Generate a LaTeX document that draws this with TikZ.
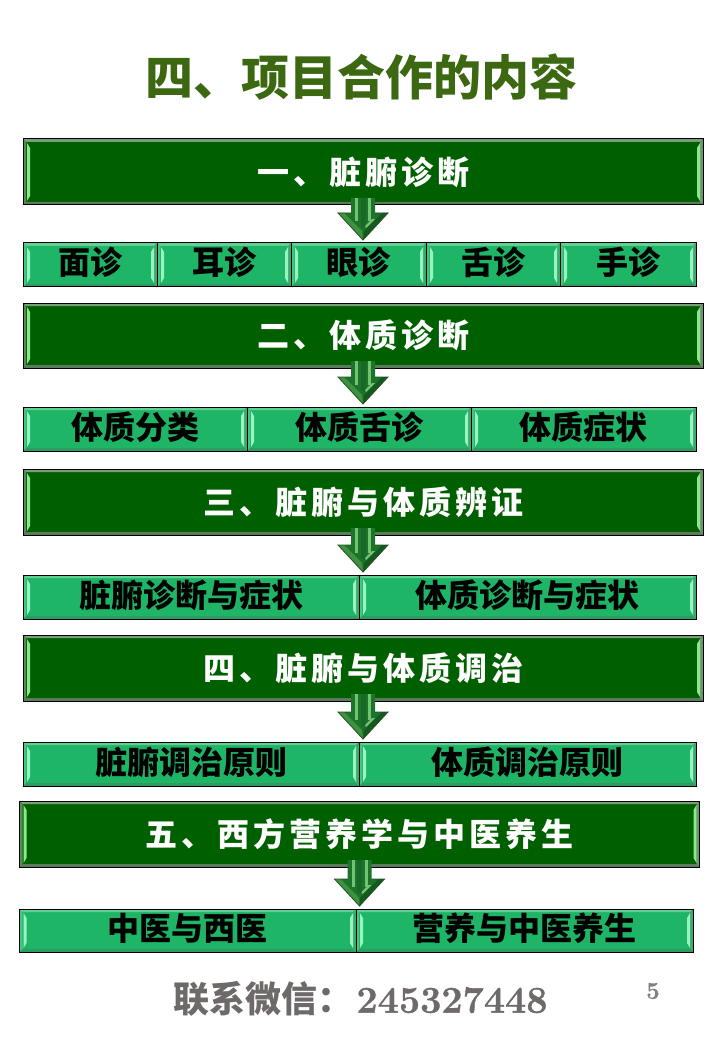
\documentclass[tikz,border=0pt]{standalone}
\usepackage{fontspec}
\usetikzlibrary{calc}
\setmainfont{Latin Modern Roman}
\newfontfamily\cjk{Noto Sans CJK SC}
\newfontfamily\cjkhd[LetterSpace=12.5]{Noto Sans CJK SC}
\definecolor{titlegreen}{HTML}{3C6812}
\definecolor{hdfill}{HTML}{006000}
\definecolor{rowfill}{HTML}{1FB566}
\definecolor{footgray}{HTML}{6E6A6A}
\definecolor{hdtopc}{RGB}{122,158,122}
\definecolor{hdbotc}{RGB}{92,122,92}
\definecolor{hdleftc}{RGB}{84,140,84}
\definecolor{hdrightc}{RGB}{110,150,110}
\definecolor{hdlightc}{RGB}{140,232,140}
\definecolor{rowtopc}{RGB}{98,208,148}
\definecolor{rowbotc}{RGB}{46,156,98}
\definecolor{rowleftc}{RGB}{70,196,130}
\definecolor{rowrightc}{RGB}{60,170,112}
\definecolor{rowlightc}{RGB}{150,245,190}
\definecolor{arrbody}{RGB}{30,115,42}
\definecolor{arrstripe}{RGB}{112,195,112}
\definecolor{arrcentre}{RGB}{24,104,40}
\definecolor{arrleft}{RGB}{62,145,62}
\definecolor{arrright}{RGB}{20,90,30}
\definecolor{arrlight}{RGB}{120,195,120}
\definecolor{arredge}{RGB}{40,80,40}
\tikzset{
  x=1pt,y=-1pt,
  barbase/.style={draw=black,line width=1pt,inner sep=0pt,outer sep=0pt,anchor=center},
  hdbar/.style={barbase,fill=hdfill,text=white,font=\cjkhd\bfseries\fontsize{32}{38}\selectfont},
  rowbar/.style={barbase,fill=rowfill,text=black,text height=26pt,text depth=6pt,font=\cjk\bfseries\fontsize{32}{38}\selectfont},
  hdbartop/.style={fill=hdtopc},
  hdbarbot/.style={fill=hdbotc},
  hdbarleft/.style={fill=hdleftc},
  hdbarright/.style={fill=hdrightc},
  hdbarlight/.style={fill=hdlightc},
  rowbartop/.style={fill=rowtopc},
  rowbarbot/.style={fill=rowbotc},
  rowbarleft/.style={fill=rowleftc},
  rowbarright/.style={fill=rowrightc},
  rowbarlight/.style={fill=rowlightc},
  arrowedge/.style={draw=arredge,line width=.8pt},
}
% name, x1, y1, x2, y2, kind, text
\newcommand\barnode[7]{%
  \node[#6,minimum width={(#4-#2)*1pt},minimum height={(#5-#3)*1pt}] (#1) at ({(#2+#4)/2},{(#3+#5)/2}) {#7};
  \fill[#6top] (#1.north west) -- (#1.north east) -- ++(-3,3) -- ($(#1.north west)+(3,3)$) -- cycle;
  \fill[#6bot] (#1.south west) -- (#1.south east) -- ++(-3,-3) -- ($(#1.south west)+(3,-3)$) -- cycle;
  \fill[#6left] (#1.north west) -- (#1.south west) -- ++(3,-3) -- ($(#1.north west)+(3,3)$) -- cycle;
  \fill[#6right] (#1.north east) -- (#1.south east) -- ++(-3,-3) -- ($(#1.north east)+(-3,3)$) -- cycle;
  \fill[#6light] ($(#1.north west)+(4,4)$) -- ++(3,5) -- ($(#1.south west)+(7,-9)$) -- ++(-3,5) -- cycle;
  \fill[#6light] ($(#1.north east)+(-3,4)$) -- ++(-3,5) -- ($(#1.south east)+(-6,-9)$) -- ++(3,5) -- cycle;
  \draw[black,line width=1pt] (#1.north west) rectangle (#1.south east);
}
% header node, row node
\newcommand\blockarrow[2]{%
  \coordinate (tip) at ($(#1.south |- #2.north)+(0,-3)$);
  \coordinate (st) at ($(#1.south)+(0,-7)$);
  \coordinate (sl) at ($(tip)+(-12,-27)$);
  \coordinate (sr) at ($(tip)+(12,-27)$);
  \coordinate (hl) at ($(tip)+(-25,-27)$);
  \coordinate (hr) at ($(tip)+(25,-27)$);
  \fill[arrbody] (st -| sl) -- (st -| sr) -- (sr) -- (hr) -- (tip) -- (hl) -- (sl) -- cycle;
  \fill[arrstripe] ($(st)+(-8,0)$) rectangle ($(sl -| st)+(-5,8)$);
  \fill[arrstripe] ($(st)+(5,0)$) rectangle ($(sl -| st)+(8,8)$);
  \fill[arrcentre] ($(st)+(-2.5,0)$) rectangle ($(sl -| st)+(2.5,14)$);
  \fill[arrleft] (hl) -- ($(hl)+(6,0)$) -- ($(tip)+(-1,-9)$) -- (tip) -- cycle;
  \fill[arrright] (hr) -- ($(hr)+(-6,0)$) -- ($(tip)+(1,-9)$) -- (tip) -- cycle;
  \fill[arrlight] ($(tip)+(3,-12)$) -- ($(tip)+(12,-21)$) -- ($(tip)+(9,-21)$) -- ($(tip)+(2,-14)$) -- cycle;
  \draw[arrowedge,line join=miter] (sl) -- (hl) -- (tip) -- (hr) -- (sr);
}
\begin{document}
\begin{tikzpicture}
\useasboundingbox (0,0) rectangle (720,1040);
\fill[white] (0,0) rectangle (720,1040);
\node[text=titlegreen,font=\cjk\bfseries\fontsize{48}{56}\selectfont] (title) at (361.5,77) {四、项目合作的内容};

\barnode{hA}{23}{139}{703}{205}{hdbar}{一、脏腑诊断}
\barnode{rAa}{23}{243}{157}{287}{rowbar}{面诊}
\barnode{rAb}{157}{243}{291}{287}{rowbar}{耳诊}
\barnode{rAc}{291}{243}{426}{287}{rowbar}{眼诊}
\barnode{rAd}{426}{243}{560}{287}{rowbar}{舌诊}
\barnode{rAe}{560}{243}{696}{287}{rowbar}{手诊}
\blockarrow{hA}{rAc}

\barnode{hB}{23}{303}{703}{368}{hdbar}{二、体质诊断}
\barnode{rBa}{23}{407}{247}{451}{rowbar}{体质分类}
\barnode{rBb}{247}{407}{471}{451}{rowbar}{体质舌诊}
\barnode{rBc}{471}{407}{696}{451}{rowbar}{体质症状}
\blockarrow{hB}{rBb}

\barnode{hC}{23}{469}{703}{535}{hdbar}{三、脏腑与体质辨证}
\barnode{rCa}{23}{575}{359}{619}{rowbar}{脏腑诊断与症状}
\barnode{rCb}{359}{575}{696}{619}{rowbar}{体质诊断与症状}
\blockarrow{hC}{rCb}

\barnode{hD}{23}{635}{703}{701}{hdbar}{四、脏腑与体质调治}
\barnode{rDa}{23}{742}{359}{786}{rowbar}{脏腑调治原则}
\barnode{rDb}{359}{742}{696}{786}{rowbar}{体质调治原则}
\blockarrow{hD}{rDb}

\barnode{hE}{19.5}{801}{699.5}{867}{hdbar}{五、西方营养学与中医养生}
\barnode{rEa}{19.5}{909}{356}{952}{rowbar}{中医与西医}
\barnode{rEb}{356}{909}{693}{952}{rowbar}{营养与中医养生}
\blockarrow{hE}{rEb}

\node[text=footgray,font=\bfseries\fontsize{37.7}{42}\selectfont] (foot) at (360.5,999) {{\cjk\fontsize{36}{42}\selectfont 联系微信：}\hspace{3pt}\addfontfeature{FakeBold=1}245327448};
\node[text=footgray!85,font=\bfseries\fontsize{24}{28}\selectfont] (page) at (653,991) {\addfontfeature{FakeBold=1}5};
\end{tikzpicture}
\end{document}
